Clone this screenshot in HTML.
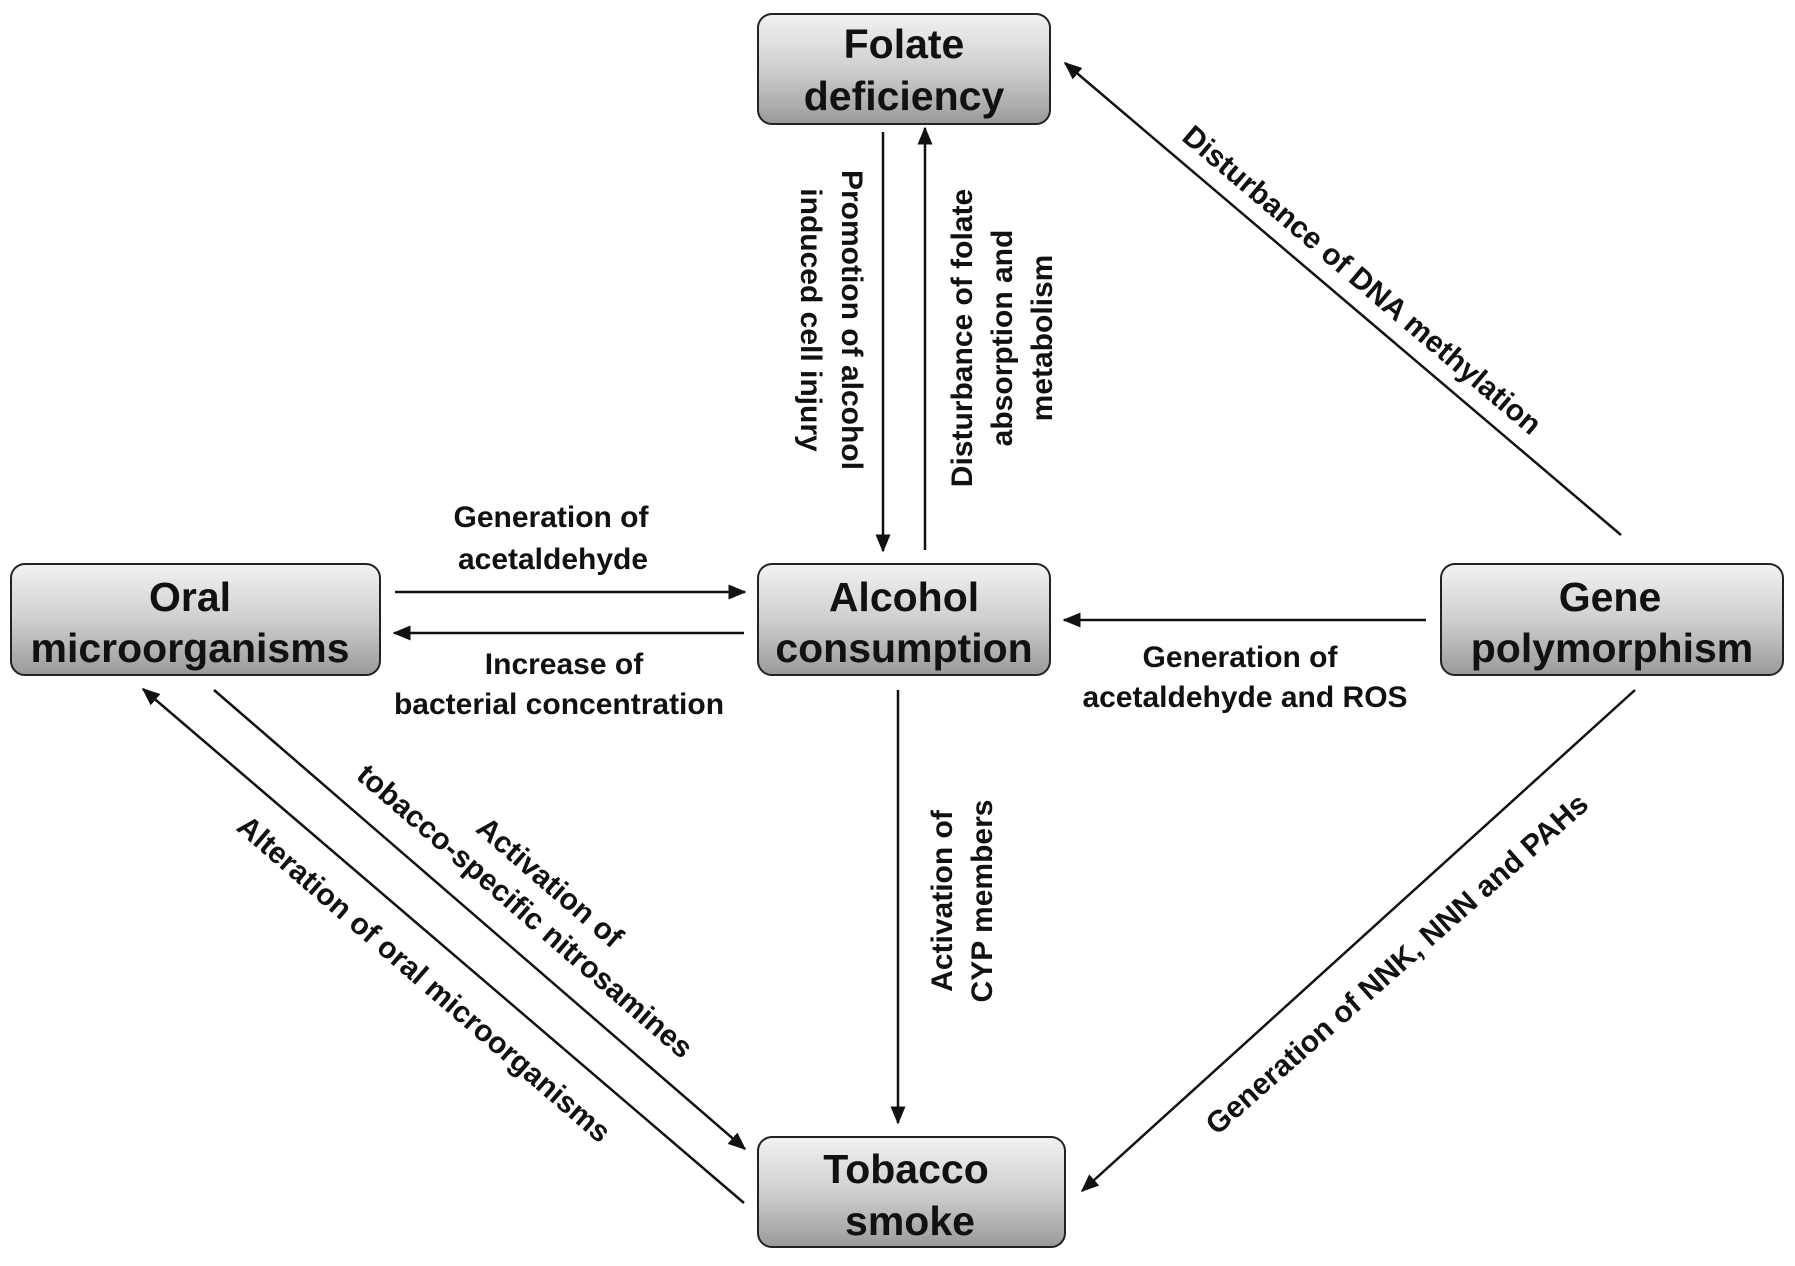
<!DOCTYPE html>
<html><head><meta charset="utf-8"><style>
html,body{margin:0;padding:0;background:#fff;}
svg{display:block;}
text{font-family:"Liberation Sans",Arial,sans-serif;font-weight:bold;fill:#111;}
.b{font-size:41px;text-anchor:middle;}
.l{font-size:30px;text-anchor:middle;}
</style></head><body>
<svg width="1795" height="1266" viewBox="0 0 1795 1266" xmlns="http://www.w3.org/2000/svg">
<defs>
<linearGradient id="g" x1="0" y1="0" x2="0" y2="1">
<stop offset="0" stop-color="#f2f2f2"/><stop offset="0.5" stop-color="#cfcfcf"/><stop offset="1" stop-color="#9a9a9a"/>
</linearGradient>
<marker id="a" viewBox="0 0 10 10" refX="9" refY="5" markerWidth="7" markerHeight="7" orient="auto-start-reverse" markerUnits="userSpaceOnUse" style="overflow:visible">
</marker>
<marker id="ah" viewBox="0 0 12 10" refX="11" refY="5" markerWidth="18" markerHeight="15" orient="auto" markerUnits="userSpaceOnUse">
<path d="M0,0 L12,5 L0,10 z" fill="#111"/>
</marker>
</defs>
<g stroke="#222" stroke-width="2" fill="url(#g)">
<rect x="758" y="14" width="292" height="110" rx="14"/>
<rect x="11" y="564" width="369" height="111" rx="14"/>
<rect x="758" y="564" width="292" height="111" rx="14"/>
<rect x="1441" y="564" width="342" height="111" rx="14"/>
<rect x="758" y="1137" width="307" height="110" rx="14"/>
</g>
<text class="b" x="904" y="58">Folate</text>
<text class="b" x="904" y="110">deficiency</text>
<text class="b" x="190" y="611">Oral</text>
<text class="b" x="190" y="662">microorganisms</text>
<text class="b" x="904" y="611">Alcohol</text>
<text class="b" x="904" y="662">consumption</text>
<text class="b" x="1610" y="611">Gene</text>
<text class="b" x="1612" y="662">polymorphism</text>
<text class="b" x="906" y="1183">Tobacco</text>
<text class="b" x="910" y="1235">smoke</text>
<g stroke="#111" stroke-width="2.5" fill="none" marker-end="url(#ah)">
<line x1="883" y1="132" x2="883" y2="551"/>
<line x1="925" y1="550" x2="925" y2="128"/>
<line x1="395" y1="592" x2="745" y2="592"/>
<line x1="744" y1="633" x2="394" y2="633"/>
<line x1="1426" y1="620" x2="1064" y2="620"/>
<line x1="1621" y1="535" x2="1065" y2="63"/>
<line x1="898" y1="690" x2="898" y2="1123"/>
<line x1="214" y1="690" x2="745" y2="1149"/>
<line x1="744" y1="1203" x2="143" y2="689"/>
<line x1="1635" y1="690" x2="1082" y2="1191"/>
</g>
<text class="l" x="551" y="527">Generation of</text>
<text class="l" x="553" y="569">acetaldehyde</text>
<text class="l" x="564" y="674">Increase of</text>
<text class="l" x="559" y="714">bacterial concentration</text>
<text class="l" x="1240" y="667">Generation of</text>
<text class="l" x="1245" y="707">acetaldehyde and ROS</text>
<g transform="translate(832,320) rotate(90)">
<text class="l" x="0" y="-10">Promotion of alcohol</text>
<text class="l" x="0" y="31">induced cell injury</text>
</g>
<g transform="translate(1002,338) rotate(-90)">
<text class="l" x="0" y="-30">Disturbance of  folate</text>
<text class="l" x="0" y="10">absorption and</text>
<text class="l" x="0" y="50">metabolism</text>
</g>
<g transform="translate(960,901) rotate(-90)">
<text class="l" x="0" y="-8">Activation of</text>
<text class="l" x="0" y="32">CYP members</text>
</g>
<g transform="translate(1362,280) rotate(40.3)">
<text class="l" x="0" y="10">Disturbance of DNA methylation</text>
</g>
<g transform="translate(538,896) rotate(40.8)">
<text class="l" x="0" y="-8">Activation of</text>
<text class="l" x="0" y="30">tobacco-specific nitrosamines</text>
</g>
<g transform="translate(424,979) rotate(40.8)">
<text class="l" x="0" y="10">Alteration of oral microorganisms</text>
</g>
<g transform="translate(1397,964) rotate(-41.4)">
<text class="l" x="0" y="10">Generation of NNK, NNN and PAHs</text>
</g>
</svg>
</body></html>
